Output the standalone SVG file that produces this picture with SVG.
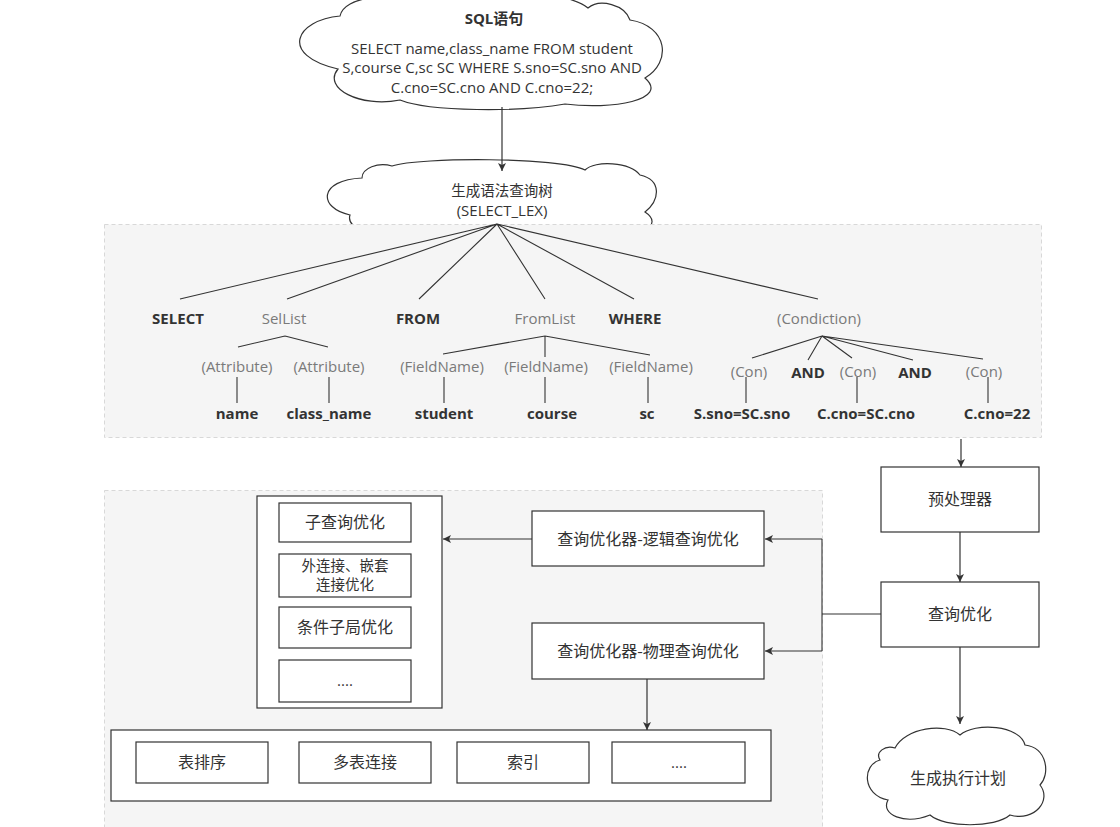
<svg xmlns="http://www.w3.org/2000/svg" width="1120" height="827" viewBox="0 0 1120 827">
<defs>
<marker id="arr" viewBox="0 0 10 10" refX="10" refY="5" markerWidth="8" markerHeight="8" markerUnits="userSpaceOnUse" orient="auto"><path d="M0,0 L10,5 L0,10 L2.5,5 Z" fill="#333"/></marker>
<style>
.t{font-family:"Open Sans","Noto Sans CJK SC",sans-serif;font-size:15px;fill:#333;text-anchor:middle}
.g{font-family:"Open Sans","Noto Sans CJK SC",sans-serif;font-size:15px;fill:#7a7a7a;text-anchor:middle}
.b{font-family:"Open Sans","Noto Sans CJK SC",sans-serif;font-size:15px;fill:#333;font-weight:bold;text-anchor:middle}
.c{font-family:"Noto Sans CJK SC",sans-serif;font-size:16px;fill:#333;text-anchor:middle}
.c15{font-family:"Noto Sans CJK SC",sans-serif;font-size:14.5px;fill:#333;text-anchor:middle}
.box{fill:#fff;stroke:#333;stroke-width:1.2}
.cloud{fill:#fff;stroke:#333;stroke-width:1.2}
.panel{fill:#f5f5f5;stroke:#d8d8d8;stroke-dasharray:4 3}
.ln{stroke:#333;stroke-width:1.1;fill:none}
.ar{stroke:#333;stroke-width:1.2;fill:none;marker-end:url(#arr)}
</style>
</defs>
<rect width="1120" height="827" fill="#fff"/>

<g id="cloud-sql">
<path class="cloud" d="M 340,16 C 296,20 278,55 338,69 C 322,88 360,108 400,100 C 430,112 520,112 565,104 C 612,110 670,100 645,78 C 672,62 668,26 630,20 C 625,5 600,-2 588,8 C 560,-15 420,-20 370,-2 C 355,0 342,6 340,16 Z"/>
<text class="b" x="494" y="24">SQL语句</text>
<text class="t" x="492" y="54">SELECT name,class_name FROM student</text>
<text class="t" x="492" y="73">S,course C,sc SC WHERE S.sno=SC.sno AND</text>
<text class="t" x="492" y="93">C.cno=SC.cno AND C.cno=22;</text>
</g>

<g id="cloud-tree">
<path class="cloud" d="M 362,178 C 318,180 318,208 350,215 C 345,230 380,240 400,232 C 450,245 560,245 600,232 C 640,240 665,225 645,212 C 660,200 662,180 640,175 C 630,162 595,160 585,170 C 560,157 420,157 392,166 C 378,162 362,168 362,178 Z"/>
<text class="c15" x="502" y="196">生成语法查询树</text>
<text class="t" x="502" y="216">(SELECT_LEX)</text>
</g>

<g id="panel-tree">
<rect class="panel" x="104.5" y="224.5" width="937" height="213"/>
</g>

<g id="panel-opt">
<rect class="panel" x="104.5" y="490.5" width="718" height="340"/>
</g>

<g id="tree-labels">
<text class="b" x="178" y="324">SELECT</text>
<text class="g" x="284" y="324">SelList</text>
<text class="b" x="418" y="324">FROM</text>
<text class="g" x="545" y="324">FromList</text>
<text class="b" x="635" y="324">WHERE</text>
<text class="g" x="819" y="324">(Condiction)</text>
<text class="g" x="237" y="372">(Attribute)</text>
<text class="g" x="329" y="372">(Attribute)</text>
<text class="g" x="442" y="372">(FieldName)</text>
<text class="g" x="546" y="372">(FieldName)</text>
<text class="g" x="651" y="372">(FieldName)</text>
<text class="g" x="749" y="377">(Con)</text>
<text class="b" x="808" y="378">AND</text>
<text class="g" x="858" y="377">(Con)</text>
<text class="b" x="915" y="378">AND</text>
<text class="g" x="984" y="377">(Con)</text>
<text class="b" x="237" y="419">name</text>
<text class="b" x="329" y="419">class_name</text>
<text class="b" x="444" y="419">student</text>
<text class="b" x="552" y="419">course</text>
<text class="b" x="647" y="419">sc</text>
<text class="b" x="742" y="419">S.sno=SC.sno</text>
<text class="b" x="866" y="419">C.cno=SC.cno</text>
<text class="b" x="997" y="419">C.cno=22</text>
</g>

<g id="preprocessor"><rect class="box" x="881" y="467" width="158" height="65"/><text class="c" x="960" y="505">预处理器</text></g>
<g id="query-opt"><rect class="box" x="881" y="582" width="158" height="65"/><text class="c" x="960" y="620">查询优化</text></g>
<g id="cloud-plan">
<path class="cloud" d="M 895,748 C 905,728 945,722 960,735 C 975,722 1020,725 1025,745 C 1048,748 1050,775 1040,785 C 1052,800 1035,822 1010,815 C 995,828 945,828 930,815 C 905,825 880,815 888,800 C 862,795 862,765 880,760 C 875,752 885,745 895,748 Z"/>
<text class="c" x="958" y="784">生成执行计划</text>
</g>

<g id="logic-opt"><rect class="box" x="532" y="511" width="232" height="55"/><text class="c" x="648" y="545">查询优化器-逻辑查询优化</text></g>
<g id="phys-opt"><rect class="box" x="532" y="623" width="232" height="56"/><text class="c" x="648" y="657">查询优化器-物理查询优化</text></g>

<g id="logic-group">
<rect class="box" x="257" y="496" width="185" height="212"/>
<rect class="box" x="279" y="503" width="132" height="39"/><text class="c" x="345" y="528">子查询优化</text>
<rect class="box" x="279" y="554" width="132" height="43"/><text class="c15" x="345" y="571">外连接、嵌套</text><text class="c15" x="345" y="590">连接优化</text>
<rect class="box" x="279" y="607" width="132" height="41"/><text class="c" x="345" y="633">条件子局优化</text>
<rect class="box" x="279" y="660" width="132" height="42"/><text class="t" x="345" y="686">....</text>
</g>

<g id="phys-group">
<rect class="box" x="111" y="730" width="660" height="71"/>
<rect class="box" x="136" y="742" width="132" height="41"/><text class="c" x="202" y="768">表排序</text>
<rect class="box" x="299" y="742" width="132" height="41"/><text class="c" x="365" y="768">多表连接</text>
<rect class="box" x="457" y="742" width="132" height="41"/><text class="c" x="523" y="768">索引</text>
<rect class="box" x="612" y="742" width="133" height="41"/><text class="t" x="679" y="768">....</text>
</g>

<g id="connectors">
<line class="ar" x1="502" y1="107" x2="502" y2="171"/>
<path class="ln" d="M497,224 L180,299 M497,224 L287,299 M497,224 L419,299 M497,224 L545,299 M497,224 L634,299 M497,224 L818,299"/>
<path class="ln" d="M285,336 L238,347 M285,336 L328,347"/>
<path class="ln" d="M237,377 V403 M329,377 V403"/>
<path class="ln" d="M545,336 L443,354 M545,336 V357 M545,336 L650,355"/>
<path class="ln" d="M444,377 V403 M545,377 V403 M648,377 V403"/>
<path class="ln" d="M822,336 L752,358 M822,336 L808,360 M822,336 L852,358 M822,336 L913,360 M822,336 L983,359"/>
<path class="ln" d="M746,377 V403 M857,377 V403 M988,377 V403"/>
<line class="ar" x1="961" y1="439" x2="961" y2="467"/>
<line class="ar" x1="960" y1="532" x2="960" y2="582"/>
<line class="ar" x1="960" y1="647" x2="960" y2="724"/>
<path class="ln" d="M881,614 H822 M822,539 V651"/>
<line class="ar" x1="822" y1="539" x2="765" y2="539"/>
<line class="ar" x1="822" y1="651" x2="765" y2="651"/>
<line class="ar" x1="532" y1="539" x2="443" y2="539"/>
<line class="ar" x1="647" y1="679" x2="647" y2="730"/>
</g>
</svg>
